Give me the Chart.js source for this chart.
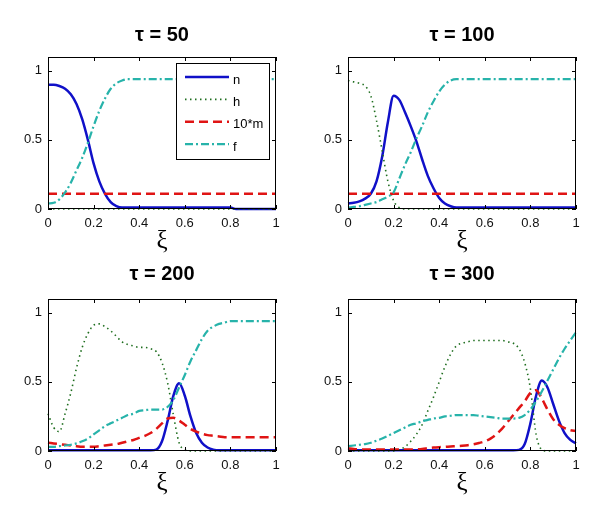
<!DOCTYPE html>
<html>
<head>
<meta charset="utf-8">
<script src="https://cdn.jsdelivr.net/npm/chart.js@4.4.0/dist/chart.umd.min.js"></script>
<style>
  html, body { margin: 0; padding: 0; background: #fff; }
  #wrap { position: relative; width: 601px; height: 512px; }
  .cell { position: absolute; width: 300px; height: 256px; }
</style>
</head>
<body>
<div id="wrap">
  <div class="cell" style="left:0;top:0"><canvas id="c50" width="300" height="256"></canvas></div>
  <div class="cell" style="left:300px;top:0"><canvas id="c100" width="300" height="256"></canvas></div>
  <div class="cell" style="left:0;top:256px"><canvas id="c200" width="300" height="256"></canvas></div>
  <div class="cell" style="left:300px;top:256px"><canvas id="c300" width="300" height="256"></canvas></div>
</div>
<script>
// shared x grid (xi)
const xs = [0, 0.025, 0.05, 0.075, 0.1, 0.125, 0.15, 0.175, 0.2, 0.225, 0.25, 0.275, 0.3, 0.325, 0.35, 0.375, 0.4,
  0.425, 0.45, 0.475, 0.5, 0.525, 0.55, 0.575, 0.6, 0.625, 0.65, 0.675, 0.7, 0.725, 0.75, 0.775, 0.8,
  0.825, 0.85, 0.875, 0.9, 0.925, 0.95, 0.975, 1];
const xTicks = [0, 0.2, 0.4, 0.6, 0.8, 1];
const yTicks = [0, 0.5, 1];
const seriesNames = ['n', 'h', '10*m', 'f'];

// tau = 50
const n50 = [0.9, 0.9, 0.89, 0.87, 0.83, 0.76, 0.65, 0.5, 0.33, 0.2, 0.11, 0.05, 0.02, 0.01, 0.01, 0.01, 0.01,
  0.01, 0.01, 0.01, 0.01, 0.01, 0.01, 0.01, 0.01, 0.01, 0.01, 0.01, 0.01, 0.01, 0.01, 0.01, 0.01,
  0, 0, 0, 0, 0, 0, 0, 0];
const h50 = [0, 0, 0, 0, 0, 0, 0, 0, 0, 0, 0, 0, 0, 0, 0, 0, 0, 0, 0, 0, 0, 0, 0, 0, 0, 0, 0, 0, 0, 0, 0, 0, 0,
  0, 0, 0, 0, 0, 0, 0, 0];
const m50 = [0.11, 0.11, 0.11, 0.11, 0.11, 0.11, 0.11, 0.11, 0.11, 0.11, 0.11, 0.11, 0.11, 0.11, 0.11, 0.11, 0.11,
  0.11, 0.11, 0.11, 0.11, 0.11, 0.11, 0.11, 0.11, 0.11, 0.11, 0.11, 0.11, 0.11, 0.11, 0.11, 0.11,
  0.11, 0.11, 0.11, 0.11, 0.11, 0.11, 0.11, 0.11];
const f50 = [0.04, 0.045, 0.07, 0.12, 0.19, 0.28, 0.37, 0.48, 0.6, 0.71, 0.8, 0.87, 0.91, 0.93, 0.94, 0.94, 0.94,
  0.94, 0.94, 0.94, 0.94, 0.94, 0.94, 0.94, 0.94, 0.94, 0.94, 0.94, 0.94, 0.94, 0.94, 0.94, 0.94,
  0.94, 0.94, 0.94, 0.94, 0.94, 0.94, 0.94, 0.94];

// tau = 100
const n100 = [0.04, 0.045, 0.055, 0.075, 0.11, 0.2, 0.38, 0.63, 0.82, 0.79, 0.7, 0.6, 0.49, 0.36, 0.24, 0.15, 0.08,
  0.04, 0.02, 0.01, 0.01, 0.01, 0.01, 0.01, 0.01, 0.01, 0.01, 0.01, 0.01, 0.01, 0.01, 0.01, 0.01,
  0.01, 0.01, 0.01, 0.01, 0.01, 0.01, 0.01, 0.01];
const h100 = [0.93, 0.92, 0.91, 0.89, 0.82, 0.64, 0.42, 0.2, 0.06, 0.01, 0, 0, 0, 0, 0, 0, 0,
  0, 0, 0, 0, 0, 0, 0, 0, 0, 0, 0, 0, 0, 0, 0, 0,
  0, 0, 0, 0, 0, 0, 0, 0];
const m100 = [0.11, 0.11, 0.11, 0.11, 0.11, 0.11, 0.11, 0.11, 0.11, 0.11, 0.11, 0.11, 0.11, 0.11, 0.11, 0.11, 0.11,
  0.11, 0.11, 0.11, 0.11, 0.11, 0.11, 0.11, 0.11, 0.11, 0.11, 0.11, 0.11, 0.11, 0.11, 0.11, 0.11,
  0.11, 0.11, 0.11, 0.11, 0.11, 0.11, 0.11, 0.11];
const f100 = [0.01, 0.015, 0.02, 0.03, 0.04, 0.05, 0.07, 0.09, 0.12, 0.22, 0.32, 0.41, 0.51, 0.6, 0.7, 0.78, 0.85,
  0.9, 0.93, 0.94, 0.94, 0.94, 0.94, 0.94, 0.94, 0.94, 0.94, 0.94, 0.94, 0.94, 0.94, 0.94, 0.94,
  0.94, 0.94, 0.94, 0.94, 0.94, 0.94, 0.94, 0.94];

// tau = 200
const n200 = [0.005, 0.005, 0.005, 0.005, 0.005, 0.005, 0.005, 0.005, 0.005, 0.005, 0.005, 0.005, 0.005, 0.005, 0.005, 0.005, 0.005,
  0.005, 0.005, 0.01, 0.07, 0.22, 0.4, 0.49, 0.4, 0.25, 0.13, 0.06, 0.025, 0.01, 0.005, 0.005, 0.005,
  0.005, 0.005, 0.005, 0.005, 0.005, 0.005, 0.005, 0.005];
const h200 = [0.27, 0.17, 0.14, 0.27, 0.42, 0.6, 0.75, 0.85, 0.91, 0.92, 0.9, 0.87, 0.83, 0.79, 0.77, 0.76, 0.75,
  0.75, 0.74, 0.72, 0.64, 0.49, 0.26, 0.06, 0.01, 0, 0, 0, 0, 0, 0, 0, 0,
  0, 0, 0, 0, 0, 0, 0, 0];
const m200 = [0.06, 0.055, 0.05, 0.045, 0.04, 0.035, 0.03, 0.03, 0.03, 0.035, 0.04, 0.045, 0.05, 0.06, 0.07, 0.08, 0.095,
  0.11, 0.13, 0.16, 0.2, 0.235, 0.24, 0.22, 0.19, 0.16, 0.14, 0.125, 0.115, 0.11, 0.105, 0.1, 0.1,
  0.1, 0.1, 0.1, 0.1, 0.1, 0.1, 0.1, 0.1];
const f200 = [0.03, 0.03, 0.035, 0.04, 0.045, 0.055, 0.07, 0.09, 0.12, 0.15, 0.18, 0.2, 0.22, 0.24, 0.26, 0.27, 0.29,
  0.295, 0.3, 0.3, 0.3, 0.32, 0.37, 0.46, 0.55, 0.65, 0.73, 0.81, 0.87, 0.9, 0.92, 0.93, 0.94,
  0.94, 0.94, 0.94, 0.94, 0.94, 0.94, 0.94, 0.94];

// tau = 300
const n300 = [0.005, 0.005, 0.005, 0.005, 0.005, 0.005, 0.005, 0.005, 0.005, 0.005, 0.005, 0.005, 0.005, 0.005, 0.005, 0.005, 0.005,
  0.005, 0.005, 0.005, 0.005, 0.005, 0.005, 0.005, 0.005, 0.005, 0.005, 0.005, 0.005, 0.005, 0.008, 0.05, 0.2,
  0.4, 0.51, 0.46, 0.34, 0.22, 0.13, 0.08, 0.055];
const h300 = [0, 0, 0, 0, 0, 0, 0, 0, 0, 0.01, 0.03, 0.07, 0.12, 0.19, 0.29, 0.39, 0.5,
  0.61, 0.7, 0.76, 0.78, 0.79, 0.8, 0.8, 0.8, 0.8, 0.8, 0.8, 0.79, 0.78, 0.74, 0.64, 0.45,
  0.12, 0.01, 0, 0, 0, 0, 0, 0];
const m300 = [0.02, 0.015, 0.012, 0.01, 0.01, 0.01, 0.01, 0.01, 0.01, 0.01, 0.01, 0.01, 0.012, 0.015, 0.02, 0.025, 0.028,
  0.03, 0.033, 0.035, 0.038, 0.042, 0.048, 0.058, 0.07, 0.09, 0.12, 0.16, 0.21, 0.26, 0.31, 0.36, 0.42,
  0.44, 0.38, 0.3, 0.23, 0.19, 0.165, 0.15, 0.145];
const f300 = [0.035, 0.04, 0.045, 0.05, 0.06, 0.075, 0.09, 0.11, 0.13, 0.15, 0.17, 0.19, 0.2, 0.215, 0.225, 0.235, 0.24,
  0.25, 0.255, 0.26, 0.26, 0.26, 0.26, 0.255, 0.25, 0.245, 0.24, 0.235, 0.235, 0.235, 0.24, 0.26, 0.3,
  0.36, 0.43, 0.51, 0.59, 0.67, 0.74, 0.8, 0.86];

// line styles for n, h, 10*m, f
const styles = [
  { color: '#1010c8', width: 2.5, dash: [] },
  { color: '#1f6e1f', width: 1.6, dash: [1.5, 3.5] },
  { color: '#e01414', width: 2.5, dash: [9, 5] },
  { color: '#27b3aa', width: 2.2, dash: [8, 3, 2, 3] }
];

function toPoints(ys) {
  return xs.map((x, i) => ({ x: x, y: ys[i] }));
}

// box with inward ticks on all four sides
const boxTicks = {
  id: 'boxTicks',
  afterDatasetsDraw(chart) {
    const { ctx, chartArea: a, scales: { x, y } } = chart;
    ctx.save();
    ctx.strokeStyle = '#000';
    ctx.lineWidth = 1;
    ctx.setLineDash([]);
    ctx.strokeRect(Math.round(a.left) + 0.5, Math.round(a.top) + 0.5,
      Math.round(a.right - a.left) - 1, Math.round(a.bottom - a.top) - 1);
    ctx.beginPath();
    x.ticks.forEach(t => {
      const px = Math.round(x.getPixelForValue(t.value)) + 0.5;
      ctx.moveTo(px, a.bottom); ctx.lineTo(px, a.bottom - 4);
      ctx.moveTo(px, a.top); ctx.lineTo(px, a.top + 4);
    });
    y.ticks.forEach(t => {
      const py = Math.round(y.getPixelForValue(t.value)) + 0.5;
      ctx.moveTo(a.left, py); ctx.lineTo(a.left + 4, py);
      ctx.moveTo(a.right, py); ctx.lineTo(a.right - 4, py);
    });
    ctx.stroke();
    ctx.restore();
  }
};

// legend drawn inside the first panel
const innerLegend = {
  id: 'innerLegend',
  afterDraw(chart) {
    if (!chart.options.plugins.innerLegend.show) return;
    const ctx = chart.ctx;
    const bx = 176, by = 63, bw = 93, bh = 96;
    ctx.save();
    ctx.fillStyle = '#fff';
    ctx.fillRect(bx, by, bw, bh);
    ctx.strokeStyle = '#000';
    ctx.lineWidth = 1;
    ctx.strokeRect(bx + 0.5, by + 0.5, bw, bh);
    ctx.font = '13px "Liberation Sans", Arial, sans-serif';
    ctx.textBaseline = 'middle';
    seriesNames.forEach((name, i) => {
      const yy = 77 + i * 22.4;
      const s = styles[i];
      ctx.beginPath();
      ctx.strokeStyle = s.color;
      ctx.lineWidth = s.width;
      ctx.setLineDash(s.dash);
      ctx.moveTo(185, yy);
      ctx.lineTo(229, yy);
      ctx.stroke();
      ctx.setLineDash([]);
      ctx.fillStyle = '#000';
      ctx.fillText(name, 233, yy + 3);
    });
    ctx.restore();
  }
};

function makePanel(id, title, series, row, legend) {
  const datasets = series.map((ys, i) => ({
    label: seriesNames[i],
    data: toPoints(ys),
    borderColor: styles[i].color,
    borderWidth: styles[i].width,
    borderDash: styles[i].dash,
    pointRadius: 0,
    fill: false,
    cubicInterpolationMode: 'monotone',
    clip: 4,
    order: 3 - i
  }));
  new Chart(document.getElementById(id), {
    type: 'line',
    data: { datasets: datasets },
    plugins: [boxTicks, innerLegend],
    options: {
      responsive: false,
      animation: false,
      events: [],
      layout: { padding: { left: 0, right: 24, top: 0, bottom: row === 0 ? 0 : 14 } },
      plugins: {
        legend: { display: false },
        tooltip: { enabled: false },
        innerLegend: { show: legend },
        title: {
          display: true,
          text: title,
          fullSize: false,
          color: '#000',
          font: { family: '"Liberation Sans", Arial, sans-serif', size: 20, weight: 'bold' },
          padding: row === 0 ? { top: 23, bottom: 10 } : { top: 6, bottom: 13 }
        }
      },
      scales: {
        x: {
          type: 'linear',
          min: 0,
          max: 1,
          afterBuildTicks: s => { s.ticks = xTicks.map(v => ({ value: v })); },
          afterFit: s => { s.height = 47; },
          grid: { display: false, drawTicks: false },
          border: { display: false },
          ticks: {
            padding: 7,
            color: '#111',
            font: { family: '"Liberation Sans", Arial, sans-serif', size: 13 },
            callback: v => String(v)
          },
          title: {
            display: true,
            text: 'ξ',
            color: '#000',
            padding: { top: 0, bottom: 0 },
            font: { family: '"Liberation Serif", "Times New Roman", serif', size: 25 }
          }
        },
        y: {
          min: 0,
          max: 1.1,
          afterBuildTicks: s => { s.ticks = yTicks.map(v => ({ value: v })); },
          afterFit: s => { s.width = 48; },
          grid: { display: false, drawTicks: false },
          border: { display: false },
          ticks: {
            padding: 6,
            color: '#111',
            font: { family: '"Liberation Sans", Arial, sans-serif', size: 13 },
            callback: v => String(v)
          }
        }
      }
    }
  });
}

makePanel('c50', 'τ = 50', [n50, h50, m50, f50], 0, true);
makePanel('c100', 'τ = 100', [n100, h100, m100, f100], 0, false);
makePanel('c200', 'τ = 200', [n200, h200, m200, f200], 1, false);
makePanel('c300', 'τ = 300', [n300, h300, m300, f300], 1, false);
</script>
</body>
</html>
